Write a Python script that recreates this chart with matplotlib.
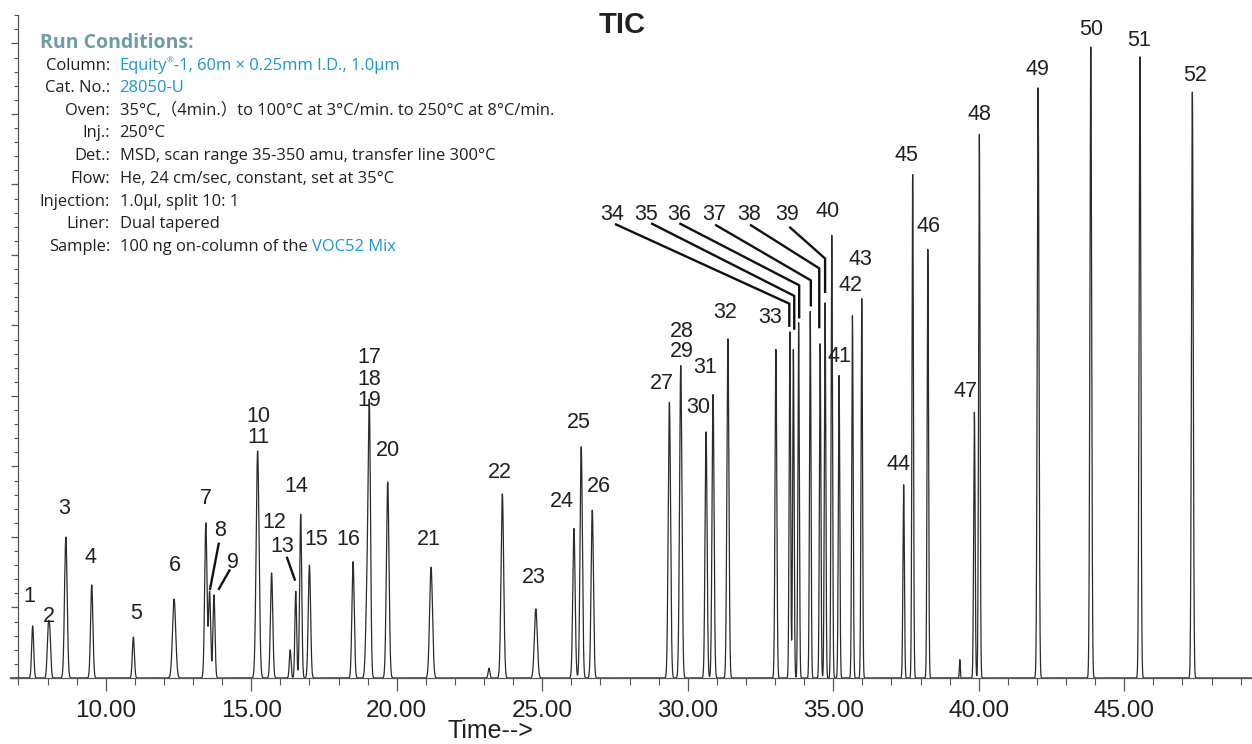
import matplotlib.pyplot as plt
import numpy as np
from matplotlib.ticker import MultipleLocator

# peak table read from the TIC: retention time (min), abundance (x1e6), width sigma (min)
peak_rt = [7.49, 8.02, 8.08, 8.63, 9.52, 10.95, 12.35, 13.44, 13.57, 13.72,
           15.22, 15.70, 16.34, 16.53, 16.70, 17.00, 18.50, 18.98, 19.06, 19.69,
           21.18, 23.17, 23.63, 24.78, 26.09, 26.34, 26.72, 29.37, 29.76, 30.63,
           30.87, 31.38, 33.03, 33.51, 33.63, 33.81, 34.21, 34.55, 34.72, 34.95,
           35.20, 35.66, 35.98, 37.42, 37.73, 38.25, 39.35, 39.85, 40.02, 42.04,
           43.85, 45.54, 47.34]
peak_height = [0.74, 0.60, 0.58, 2.00, 1.32, 0.58, 1.12, 2.20, 1.22, 1.18,
               3.22, 1.49, 0.40, 1.23, 2.32, 1.60, 1.65, 1.15, 3.70, 2.78,
               1.57, 0.14, 2.61, 0.98, 2.12, 3.28, 2.38, 3.91, 4.43, 3.49,
               4.02, 4.81, 4.66, 4.91, 4.66, 5.04, 5.20, 4.74, 5.32, 6.28,
               4.29, 5.14, 5.38, 2.74, 7.14, 6.08, 0.26, 3.77, 7.71, 8.37,
               8.95, 8.81, 8.31]
peak_sigma = [0.035, 0.035, 0.035, 0.045, 0.04, 0.035, 0.055, 0.04, 0.035, 0.035,
              0.05, 0.04, 0.03, 0.03, 0.035, 0.04, 0.04, 0.045, 0.04, 0.045,
              0.05, 0.03, 0.045, 0.05, 0.04, 0.04, 0.04, 0.04, 0.04, 0.035,
              0.035, 0.035, 0.03, 0.025, 0.025, 0.025, 0.025, 0.025, 0.025, 0.025,
              0.025, 0.025, 0.025, 0.025, 0.025, 0.025, 0.015, 0.025, 0.025, 0.03,
              0.03, 0.03, 0.03]

# peak numbers and where they are written (min, abundance)
label_ids = [str(i) for i in range(1, 53)]
label_t = [7.37, 8.05, 8.57, 9.48, 11.03, 12.38, 13.44, 13.93, 14.38, 15.24,
           15.24, 15.78, 16.05, 16.54, 17.23, 18.34, 19.06, 19.06, 19.06, 19.69,
           21.11, 23.53, 24.72, 25.67, 26.26, 26.95, 29.11, 29.79, 29.79, 30.36,
           30.59, 31.28, 32.83, 27.39, 28.57, 29.71, 30.90, 32.12, 33.40, 34.80,
           35.23, 35.60, 35.93, 37.24, 37.53, 38.27, 39.53, 40.01, 42.01, 43.85,
           45.51, 47.43]
label_a = [1.15, 0.87, 2.40, 1.71, 0.91, 1.59, 2.55, 2.09, 1.64, 3.71,
           3.41, 2.20, 1.86, 2.71, 1.97, 1.97, 4.55, 4.24, 3.94, 3.22,
           1.96, 2.91, 1.42, 2.51, 3.63, 2.71, 4.18, 4.91, 4.63, 3.83,
           4.41, 5.18, 5.12, 6.58, 6.58, 6.58, 6.58, 6.58, 6.58, 6.61,
           4.56, 5.57, 5.94, 3.03, 7.41, 6.40, 4.06, 7.99, 8.63, 9.20,
           9.04, 8.54]

# leader lines from crowded labels down to their peaks
leaders = {
    '8': [(13.89, 1.92), (13.58, 1.25)],
    '9': [(14.27, 1.54), (13.87, 1.25)],
    '13': [(16.22, 1.72), (16.51, 1.38)],
    '34': [(27.50, 6.44), (33.49, 5.31), (33.49, 4.98)],
    '35': [(28.74, 6.45), (33.66, 5.42), (33.66, 4.94)],
    '36': [(29.71, 6.45), (33.83, 5.57), (33.83, 5.10)],
    '37': [(30.94, 6.43), (34.23, 5.64), (34.23, 5.27)],
    '38': [(32.14, 6.43), (34.52, 5.81), (34.52, 4.96)],
    '39': [(33.49, 6.40), (34.72, 5.95), (34.72, 5.46)],
}

W, H = 1252, 744
BLUE = '#1b96d2'
DARK = '#231f20'
NUM_FONT = ['Liberation Sans', 'DejaVu Sans']
TXT_FONT = ['Open Sans', 'Noto Sans CJK JP', 'DejaVu Sans']

fig = plt.figure(figsize=(W / 100, H / 100), dpi=100)
ax = fig.add_axes([10 / W, 66 / H, 1242 / W, 663 / H])

t = np.arange(6.70, 49.40, 0.002)
signal = np.zeros_like(t)
for rt, h, s in zip(peak_rt, peak_height, peak_sigma):
    signal += h * np.exp(-0.5 * ((t - rt) / s) ** 2)
ax.plot(t, signal, color='#2b2b2b', lw=0.9, zorder=3)

ax.set_xlim(6.711, 49.39)
ax.set_ylim(0, 9.404)

for sp in ['top', 'right']:
    ax.spines[sp].set_visible(False)
ax.spines['left'].set_position(('data', 7.0))
ax.spines['left'].set_color('#555555')
ax.spines['bottom'].set_color('#555555')
ax.spines['left'].set_linewidth(0.9)
ax.spines['bottom'].set_linewidth(0.9)

ax.xaxis.set_major_locator(MultipleLocator(5))
ax.xaxis.set_minor_locator(MultipleLocator(1))
ax.yaxis.set_major_locator(MultipleLocator(1))
ax.yaxis.set_minor_locator(MultipleLocator(0.2))
ax.tick_params(axis='x', which='major', direction='out', length=9.5, width=0.9,
               color='#555555', pad=6.5, labelsize=17.5, labelcolor=DARK)
ax.tick_params(axis='x', which='minor', direction='out', length=5, width=0.8,
               color='#555555')
ax.tick_params(axis='y', which='major', direction='out', length=5, width=0.9,
               color='#555555', labelleft=False)
ax.tick_params(axis='y', which='minor', direction='out', length=3, width=0.8,
               color='#555555')
ax.set_xticks(range(10, 50, 5))
ax.set_xticklabels(['%.2f' % v for v in range(10, 50, 5)], family=NUM_FONT)
ax.patch.set_visible(False)

for lid, lt, la in zip(label_ids, label_t, label_a):
    ax.text(lt, la, lid, ha='center', va='center', fontsize=15.5,
            family=NUM_FONT, color=DARK, zorder=4)

for pts in leaders.values():
    xs, ys = zip(*pts)
    ax.plot(xs, ys, color='#111111', lw=1.7, solid_capstyle='butt', zorder=4)

fig.text(622 / W, 1 - 25 / H, 'TIC', ha='center', va='center', fontsize=21,
         fontweight='bold', family=NUM_FONT, color=DARK)
fig.text(490 / W, 1 - 743 / H, 'Time-->', ha='center', va='bottom',
         fontsize=18, family=NUM_FONT, color=DARK)

# run conditions block
renderer = fig.canvas.get_renderer()
fs = 11.9
fig.text(40 / W, 1 - 43.5 / H, 'Run Conditions:', ha='left', va='center',
         fontsize=14, fontweight='bold', family=TXT_FONT, color='#6e9ca6')

rows = [
    ('Column:', [('Equity', BLUE, 0), ('®', BLUE, 1), ('-1, 60m × 0.25mm I.D., 1.0µm', BLUE, 0)]),
    ('Cat. No.:', [('28050-U', BLUE, 0)]),
    ('Oven:', [('35°C,（4min.）to 100°C at 3°C/min. to 250°C at 8°C/min.', DARK, 0)]),
    ('Inj.:', [('250°C', DARK, 0)]),
    ('Det.:', [('MSD, scan range 35-350 amu, transfer line 300°C', DARK, 0)]),
    ('Flow:', [('He, 24 cm/sec, constant, set at 35°C', DARK, 0)]),
    ('Injection:', [('1.0µl, split 10: 1', DARK, 0)]),
    ('Liner:', [('Dual tapered', DARK, 0)]),
    ('Sample:', [('100 ng on-column of the', DARK, 0), ('VOC52 Mix', BLUE, 2)]),
]
row_y = [65.7, 88.3, 110.7, 133.3, 156.0, 179.0, 201.7, 224.0, 246.7]

probe = fig.text(0, 0, 'x x', fontsize=fs, family=TXT_FONT)
probe2 = fig.text(0, 0, 'xx', fontsize=fs, family=TXT_FONT)
space_w = probe.get_window_extent(renderer).width - probe2.get_window_extent(renderer).width
probe.remove()
probe2.remove()

for (lab, pieces), yp in zip(rows, row_y):
    fig.text(110 / W, 1 - yp / H, lab, ha='right', va='center', fontsize=fs,
             family=TXT_FONT, color=DARK)
    x = 119.5
    for txt, col, kind in pieces:
        if kind == 2:
            x += space_w
        if kind == 1:
            tt = fig.text(x / W, 1 - (yp - 5) / H, txt, ha='left', va='center',
                          fontsize=6, family=TXT_FONT, color=col)
        else:
            tt = fig.text(x / W, 1 - yp / H, txt, ha='left', va='center',
                          fontsize=fs, family=TXT_FONT, color=col)
        x += tt.get_window_extent(renderer).width

fig.savefig('out.png', dpi=100)
